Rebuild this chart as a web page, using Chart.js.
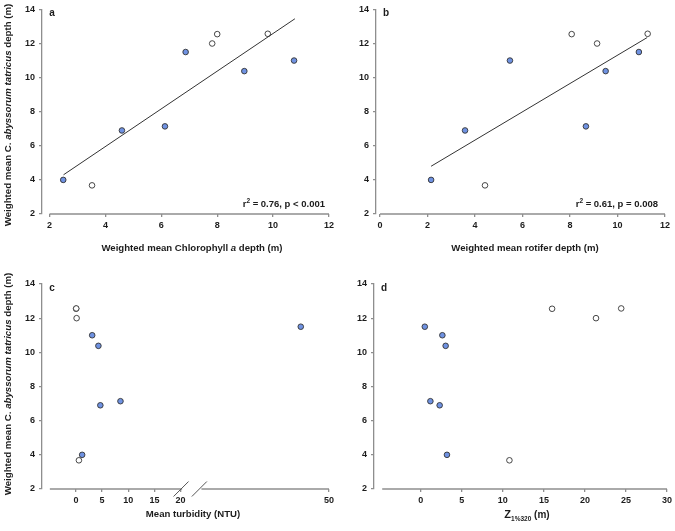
<!DOCTYPE html>
<html>
<head>
<meta charset="utf-8">
<script src="https://cdn.jsdelivr.net/npm/chart.js@4.4.1/dist/chart.umd.min.js"></script>
<style>
  body { margin: 0; background: #fff; width: 675px; height: 531px; position: relative; overflow: hidden; }
  canvas { position: absolute; }
</style>
</head>
<body>
<canvas id="pa" width="337" height="260" style="left:0;top:0"></canvas>
<canvas id="pb" width="338" height="260" style="left:337px;top:0"></canvas>
<canvas id="pc" width="337" height="271" style="left:0;top:260px"></canvas>
<canvas id="pd" width="338" height="271" style="left:337px;top:260px"></canvas>
<script>
// lakes drawn with filled symbols (same order in every array)
const copFilled = [4.0, 6.9, 7.14, 10.38, 11.0, 11.5];
const chlFilled = [2.49, 4.59, 6.13, 8.97, 10.75, 6.87];
const rotFilled = [2.15, 3.58, 8.67, 9.5, 5.47, 10.9];
const turbFilled = [1.18, 4.66, 8.51, 4.29, 3.1, 44.6];
const zFilled = [3.19, 2.3, 1.17, 3.03, 2.63, 0.49];

// lakes drawn with open symbols
const copOpen = [3.68, 12.0, 12.55, 12.57];
const chlOpen = [3.52, 7.82, 8.0, 9.81];
const rotOpen = [4.42, 9.14, 8.07, 11.27];
const turbOpen = [0.56, 0.12, 0.02, 0.05];
const zOpen = [10.8, 21.35, 16.0, 24.42];

const fitAX = [2.5, 10.78];
const fitAY = [4.3, 13.45];
const fitBX = [2.15, 11.25];
const fitBY = [4.8, 12.35];

const yTicks = [2, 4, 6, 8, 10, 12, 14];
const xTicksA = [2, 4, 6, 8, 10, 12];
const xTicksB = [0, 2, 4, 6, 8, 10, 12];
const xTicksC = [0, 5, 10, 15, 20, 50];
const xTicksD = [0, 5, 10, 15, 20, 25, 30];

// broken turbidity axis: values above 20 are shifted left
const BREAK_AT = 20;
const BREAK_SHIFT = 1.6;
const brk = v => (v > BREAK_AT ? v - BREAK_SHIFT : v);
const unbrk = v => (v > BREAK_AT ? Math.round(v + BREAK_SHIFT) : v);

const AXIS = '#8e8e8e';
const INK = '#1c1c1c';
const BLUE = '#6f92e2';
const FAM = '"Liberation Sans", Arial, sans-serif';
const B = s => 'bold ' + s + 'px ' + FAM;
const BI = s => 'italic bold ' + s + 'px ' + FAM;

function pts(xs, ys, f) {
  return xs.map((x, i) => ({ x: f ? f(x) : x, y: ys[i] }));
}

function rich(ctx, parts, x, y, align, rot) {
  ctx.save();
  ctx.translate(x, y);
  if (rot) ctx.rotate(rot);
  let w = 0;
  parts.forEach(p => { ctx.font = p.f; p.w = ctx.measureText(p.t).width; w += p.w; });
  let cx = align === 'center' ? -w / 2 : align === 'right' ? -w : 0;
  ctx.fillStyle = INK;
  ctx.textBaseline = 'alphabetic';
  ctx.textAlign = 'left';
  parts.forEach(p => { ctx.font = p.f; ctx.fillText(p.t, cx, p.dy || 0); cx += p.w; });
  ctx.restore();
}

const yTitle = [
  { t: 'Weighted mean C. ', f: B(9.7) },
  { t: 'abyssorum tatricus', f: BI(9.7) },
  { t: ' depth (m)', f: B(9.7) }
];

function scatterSets(xf, yf, xo, yo, f) {
  return [
    { data: pts(xo, yo, f), backgroundColor: '#fff', borderColor: '#333', borderWidth: 0.9, pointRadius: 2.8 },
    { data: pts(xf, yf, f), backgroundColor: BLUE, borderColor: '#333', borderWidth: 0.9, pointRadius: 2.8 }
  ];
}

function fitSet(xs, ys) {
  return { type: 'line', data: pts(xs, ys), borderColor: '#333', borderWidth: 1, pointRadius: 0, fill: false };
}

function panel(id, o) {
  const deco = {
    id: 'deco' + id,
    afterDraw(chart) {
      const ctx = chart.ctx;
      const xs = chart.scales.x;
      const bot = chart.chartArea.bottom;
      ctx.save();
      ctx.strokeStyle = AXIS;
      ctx.lineWidth = 1.3;
      o.xLine.forEach(seg => {
        ctx.beginPath();
        ctx.moveTo(xs.getPixelForValue(seg[0]), bot);
        ctx.lineTo(xs.getPixelForValue(seg[1]), bot);
        ctx.stroke();
      });
      if (o.slashes) {
        ctx.strokeStyle = '#555';
        ctx.lineWidth = 1;
        o.slashes.forEach(v => {
          const px = xs.getPixelForValue(v);
          ctx.beginPath();
          ctx.moveTo(px - 7.5, bot + 7.5);
          ctx.lineTo(px + 7.5, bot - 7.5);
          ctx.stroke();
        });
      }
      ctx.restore();
      rich(ctx, [{ t: o.letter, f: B(10) }], chart.chartArea.left + 10, chart.chartArea.top + 7, 'center');
      rich(ctx, o.xTitle, o.xTitlePos[0], o.xTitlePos[1], 'center');
      if (o.yTitle) rich(ctx, yTitle, 11, o.yTitleY, 'center', -Math.PI / 2);
      if (o.note) rich(ctx, o.note, o.notePos[0], o.notePos[1], 'right');
    }
  };
  return new Chart(document.getElementById(id), {
    type: 'scatter',
    data: { datasets: o.datasets },
    options: {
      responsive: false,
      animation: false,
      events: [],
      layout: { autoPadding: false, padding: { top: o.top, right: o.right, left: 0, bottom: 0 } },
      plugins: { legend: { display: false }, tooltip: { enabled: false } },
      scales: {
        x: {
          type: 'linear', min: o.xmin, max: o.xmax,
          afterBuildTicks: s => { s.ticks = o.xTicks.map(v => ({ value: o.tx ? o.tx(v) : v })); },
          afterFit: s => { s.height = o.xHeight; },
          ticks: { font: { family: FAM, size: 9, weight: 'bold' }, color: INK, padding: 3, maxRotation: 0,
                   callback: v => String(o.tx ? unbrk(v) : v) },
          grid: { drawOnChartArea: false, color: AXIS, lineWidth: 1.3, tickLength: 3 },
          border: { display: false }
        },
        y: {
          min: 2, max: 14,
          afterBuildTicks: s => { s.ticks = yTicks.map(v => ({ value: v })); },
          afterFit: s => { s.width = o.left; },
          ticks: { font: { family: FAM, size: 9, weight: 'bold' }, color: INK, padding: 4 },
          grid: { drawOnChartArea: false, color: AXIS, lineWidth: 1.3, tickLength: 3 },
          border: { color: AXIS, width: 1.3 }
        }
      }
    },
    plugins: [deco]
  });
}

panel('pa', {
  left: 42, right: 2, top: 9, xHeight: 46, xmin: 1.73, xmax: 12,
  xTicks: xTicksA, xLine: [[2, 12]], letter: 'a',
  datasets: [fitSet(fitAX, fitAY)].concat(scatterSets(chlFilled, copFilled, chlOpen, copOpen)),
  xTitle: [{ t: 'Weighted mean Chlorophyll ', f: B(9.6) }, { t: 'a', f: BI(9.6) }, { t: ' depth (m)', f: B(9.6) }],
  xTitlePos: [192, 251], yTitle: true, yTitleY: 115,
  note: [{ t: 'r', f: B(9.5) }, { t: '2', f: B(6.5), dy: -4 }, { t: ' = 0.76, p < 0.001', f: B(9.5) }],
  notePos: [325, 207]
});

panel('pb', {
  left: 39, right: 10, top: 9, xHeight: 46, xmin: -0.17, xmax: 12,
  xTicks: xTicksB, xLine: [[0, 12]], letter: 'b',
  datasets: [fitSet(fitBX, fitBY)].concat(scatterSets(rotFilled, copFilled, rotOpen, copOpen)),
  xTitle: [{ t: 'Weighted mean rotifer depth (m)', f: B(9.6) }],
  xTitlePos: [188, 251],
  note: [{ t: 'r', f: B(9.5) }, { t: '2', f: B(6.5), dy: -4 }, { t: ' = 0.61, p = 0.008', f: B(9.5) }],
  notePos: [321, 207]
});

panel('pc', {
  left: 42, right: 1, top: 24, xHeight: 42, xmin: -6.5, xmax: brk(50),
  xTicks: xTicksC, tx: brk, xLine: [[-5, 20.3], [24.0, brk(50)]], slashes: [20.1, 23.6], letter: 'c',
  datasets: scatterSets(turbFilled, copFilled, turbOpen, copOpen, brk),
  xTitle: [{ t: 'Mean turbidity (NTU)', f: B(9.6) }],
  xTitlePos: [193, 257], yTitle: true, yTitleY: 124
});

panel('pd', {
  left: 37, right: 7, top: 24, xHeight: 42, xmin: -5.7, xmax: 30,
  xTicks: xTicksD, xLine: [[-4.7, 30]], letter: 'd',
  datasets: scatterSets(zFilled, copFilled, zOpen, copOpen),
  xTitle: [{ t: 'Z', f: B(11) }, { t: '1%320', f: B(6.5), dy: 3 }, { t: ' (m)', f: B(10) }],
  xTitlePos: [190, 258]
});
</script>
</body>
</html>
